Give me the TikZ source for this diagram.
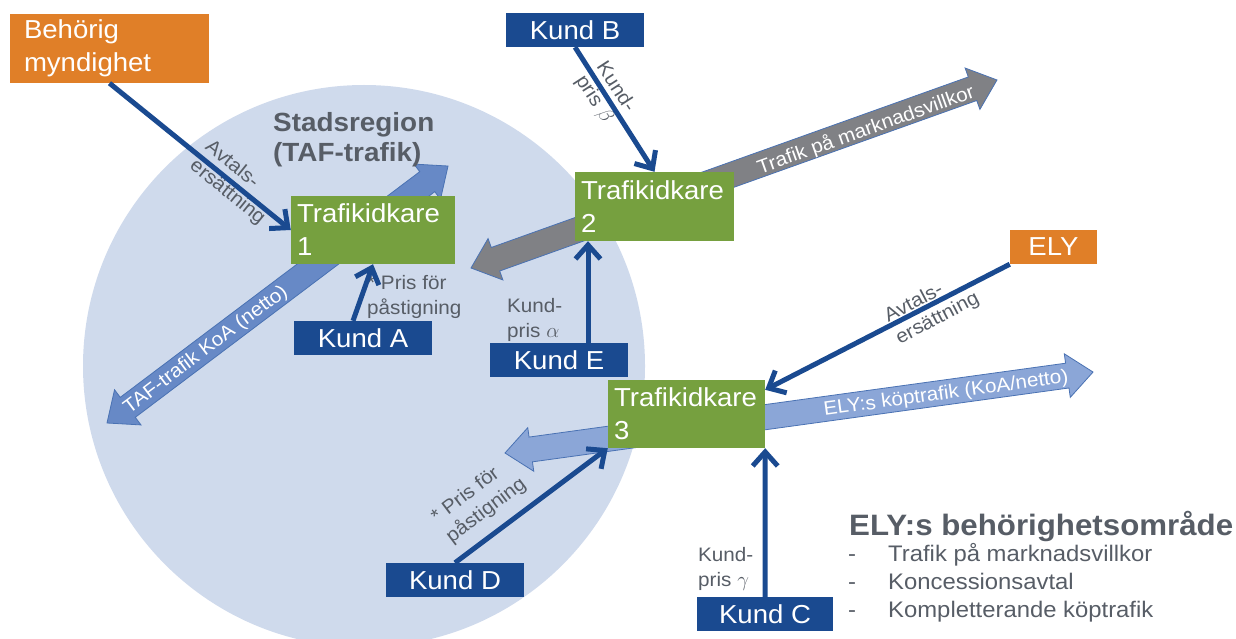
\documentclass[tikz,border=0pt]{standalone}
\usepackage{fontspec}
\setmainfont[FakeStretch=1.06]{Liberation Sans}
\usetikzlibrary{arrows.meta,calc}
\definecolor{kblue}{HTML}{1A4A90}
\definecolor{kgreen}{HTML}{76A03F}
\definecolor{korange}{HTML}{E07F28}
\definecolor{kcircle}{HTML}{CFDAEC}
\definecolor{ktext}{HTML}{575D66}
\definecolor{ktaf}{HTML}{6789C6}
\definecolor{kgray}{HTML}{808185}
\definecolor{kely}{HTML}{8BA6D7}
\definecolor{kedge}{HTML}{4A72B3}
\newcommand{\blockarrow}[4]{%
  \begin{scope}[shift={#1},rotate=#2]
    \path[#4] (0,0) -- (26,22) -- (26,12.5) -- ({#3-26},12.5) -- ({#3-26},22) -- (#3,0)
      -- ({#3-26},-22) -- ({#3-26},-12.5) -- (26,-12.5) -- (26,-22) -- cycle;
  \end{scope}}
\begin{document}
\begin{tikzpicture}[x=1pt,y=-1pt,
  box/.style={inner sep=0pt, text=white, font=\fontsize{26}{33}\selectfont},
  kund/.style={box, fill=kblue, minimum width=138pt, minimum height=34pt},
  tk/.style={box, fill=kgreen, align=left, inner xsep=6pt, inner ysep=0pt},
  org/.style={box, fill=korange},
  lbl/.style={text=ktext, font=\fontsize{19.5}{24.5}\selectfont, inner sep=0pt, align=left},
  arrowtxt/.style={text=white, font=\fontsize{19.5}{24}\selectfont, inner sep=0pt},
  conn/.style={draw=kblue, line width=5pt, -{Straight Barb[length=14pt,width=25pt]}},
  tafarrow/.style={fill=ktaf, draw=kedge, line width=0.8pt},
  grayarrow/.style={fill=kgray, draw=kedge, line width=0.8pt},
  elyarrow/.style={fill=kely, draw=kedge, line width=0.8pt}]
\useasboundingbox (0,0) rectangle (1236,639);
\clip (0,0) rectangle (1236,639);
% city region
\fill[kcircle] (364,366) circle[radius=281];
% block arrows
\blockarrow{(107,423)}{37.0}{427}{tafarrow}
\blockarrow{(471,268)}{19.67}{558.6}{grayarrow}
\blockarrow{(505,453)}{7.84}{593.6}{elyarrow}
\node[arrowtxt, rotate=37] (taftxt) at (206,350) {TAF-trafik KoA (netto)};
\node[arrowtxt, rotate=19.67] (marktxt) at (866,130) {Trafik på marknadsvillkor};
\node[arrowtxt, rotate=7.84] (elytxt) at (946,394) {ELY:s köptrafik (KoA/netto)};
% titles
\node[text=ktext, font=\bfseries\fontsize{26.3}{30}\selectfont, align=left, inner sep=0pt, anchor=north west] (stad) at (273,112) {Stadsregion\\(TAF-trafik)};
\node[text=ktext, font=\bfseries\fontsize{29.5}{34}\selectfont, inner sep=0pt, anchor=base west] (elytitle) at (849,535) {ELY:s behörighetsområde};
\foreach \y/\t [count=\i] in {561/Trafik på marknadsvillkor, 589/Koncessionsavtal, 617/Kompletterande köptrafik}{
  \node[text=ktext, font=\fontsize{22.5}{27}\selectfont, inner sep=0pt, anchor=base west] (dash\i) at (848,\y) {-};
  \node[text=ktext, font=\fontsize{22.5}{27}\selectfont, inner sep=0pt, anchor=base west] (item\i) at (888,\y) {\t};
}
% labels
\node[lbl, rotate=-39] (l1) at (235,183) {Avtals-\\ersättning};
\node[lbl, rotate=-57] (l2) at (605,94) {Kund-\\pris $\beta$};
\node[lbl, rotate=27.6] (l3) at (932,308) {Avtals-\\ersättning};
\node[lbl, rotate=37] (l4) at (479,501) {* Pris för\\påstigning};
\node[lbl, anchor=west] (l5) at (367,297) {* Pris för\\påstigning};
\node[lbl, anchor=west] (l6) at (507,320) {Kund-\\pris $\alpha$};
\node[lbl, anchor=west] (l7) at (698,569) {Kund-\\pris $\gamma$};
% boxes
\node[org, align=left, inner xsep=14pt, text width=171pt, minimum height=69pt] (behorig) at (109.5,48.5) {Behörig\\myndighet};
\node[org, minimum width=87pt, minimum height=34pt] (ely) at (1053.5,247) {ELY};
\node[tk, text width=152pt, minimum height=68pt] (tk1) at (373,230) {Trafikidkare\\1};
\node[tk, text width=147pt, minimum height=69pt] (tk2) at (654.5,206.5) {Trafikidkare\\2};
\node[tk, text width=145pt, minimum height=68pt] (tk3) at (686.5,414) {Trafikidkare\\3};
\node[kund] (kunda) at (363,338) {Kund A};
\node[kund] (kundb) at (575,30) {Kund B};
\node[kund] (kunde) at (559,360) {Kund E};
\node[kund] (kundd) at (455,580) {Kund D};
\node[kund, minimum width=136pt] (kundc) at (765,614) {Kund C};
% connectors
\draw[conn] (behorig.south) -- (tk1.west);
\draw[conn] (kundb.south) -- (tk2.north);
\draw[conn] ([xshift=-10pt]kunda.north) -- (tk1.south);
\draw[conn] ([xshift=29pt]kunde.north) -- ([xshift=29pt]kunde.north |- tk2.south);
\draw[conn] (ely.south west) -- ([yshift=-10pt]tk3.north east);
\draw[conn] (kundd.north) -- (tk3.south west);
\draw[conn] (kundc.north) -- (tk3.south east);
\end{tikzpicture}
\end{document}
